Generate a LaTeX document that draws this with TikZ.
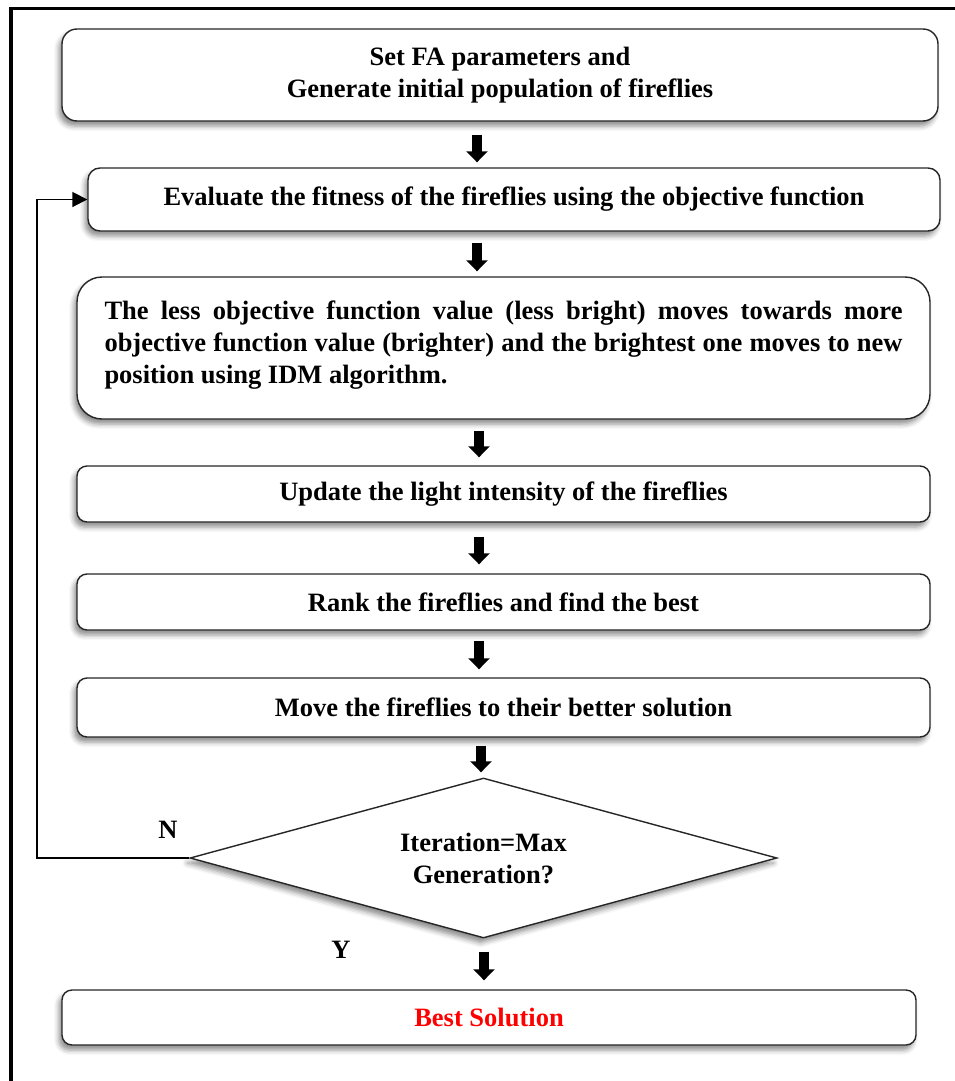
\documentclass[tikz,border=0pt]{standalone}
\usepackage{fontspec}
\setmainfont{Liberation Serif}
\usetikzlibrary{shapes.geometric,arrows.meta,shadows.blur}
\begin{document}
\begin{tikzpicture}[x=1pt,y=-1pt,
  txt/.style={font=\bfseries\fontsize{26.5}{32}\selectfont},
  box/.style={draw=black!85, line width=1.4pt, fill=white, rounded corners=#1, inner sep=0pt, txt,
    blur shadow={shadow xshift=-3pt, shadow yshift=-5pt, shadow blur radius=5pt, shadow opacity=45}},
  dia/.style={diamond, draw=black!85, line width=1.4pt, fill=white, inner sep=0pt, txt, align=center,
    aspect=3.67, minimum width=587pt, minimum height=160pt,
    blur shadow={shadow xshift=-3pt, shadow yshift=-5pt, shadow blur radius=5pt, shadow opacity=45}},
  blk/.style={line width=10pt, draw=black, -{Triangle[length=11pt,width=21pt]}},
  fb/.style={line width=1.8pt, draw=black, -{Triangle[length=15pt,width=15pt]}},
  lbl/.style={txt}
]
\useasboundingbox (0,0) rectangle (955,1081);
\begin{scope}
\clip (0,0) rectangle (955,1081);
\draw[line width=3.5pt] (11,1100) -- (11,8.5) -- (980,8.5);
\end{scope}

\node[box=15pt, minimum width=876pt, minimum height=92pt, align=center] (b1) at (500,75)
  {Set FA parameters and\\ Generate initial population of fireflies};
\node[box=12pt, minimum width=852pt, minimum height=63pt] (b2) at (514,199.5)
  {Evaluate the fitness of the fireflies using the objective function};
\node[box=25pt, minimum width=853pt, minimum height=142pt] (b3) at (503.5,348)
  {\parbox{798pt}{\bfseries\fontsize{26.5}{32}\selectfont\hyphenpenalty=10000\exhyphenpenalty=10000 The less objective function value (less bright) moves towards more\linebreak objective function value (brighter) and the brightest one moves to new\linebreak position using IDM algorithm.\vspace{6pt}}};
\node[box=10pt, minimum width=853pt, minimum height=56pt] (b4) at (503.5,494)
  {Update the light intensity of the fireflies};
\node[box=10pt, minimum width=853pt, minimum height=56pt] (b5) at (503.5,602)
  {Rank the fireflies and find the best};
\node[box=10pt, minimum width=853pt, minimum height=59pt] (b6) at (503.5,707.5)
  {Move the fireflies to their better solution};
\node[dia] (d) at (483.5,858) {Iteration=Max\\Generation?};
\node[box=10pt, minimum width=854pt, minimum height=55pt, text=red] (b7) at (489,1017.5)
  {Best Solution};

\coordinate (a1) at (477,0);
\coordinate (a3) at (479,0);
\coordinate (a6) at (481,0);
\coordinate (a7) at (484,0);
\coordinate (fbx) at (37,0);

\draw[blk, shorten <=13pt, shorten >=5pt] (b1.south -| a1) -- (b2.north -| a1);
\draw[blk, shorten <=11pt, shorten >=5pt] (b2.south -| a1) -- (b3.north -| a1);
\draw[blk, shorten <=11pt, shorten >=8pt] (b3.south -| a3) -- (b4.north -| a3);
\draw[blk, shorten <=14pt, shorten >=9pt] (b4.south -| a3) -- (b5.north -| a3);
\draw[blk, shorten <=10pt, shorten >=8pt] (b5.south -| a3) -- (b6.north -| a3);
\draw[blk, shorten <=8pt, shorten >=5pt] (b6.south -| a6) -- (d.north -| a6);
\draw[blk, shorten <=13pt, shorten >=9pt] (d.south -| a7) -- (b7.north -| a7);

\draw[fb] (d.west) -- (d.west -| fbx) |- (b2.west);

\node[lbl] (n) at (168,830) {N};
\node[lbl] (y) at (341,950) {Y};
\end{tikzpicture}
\end{document}
